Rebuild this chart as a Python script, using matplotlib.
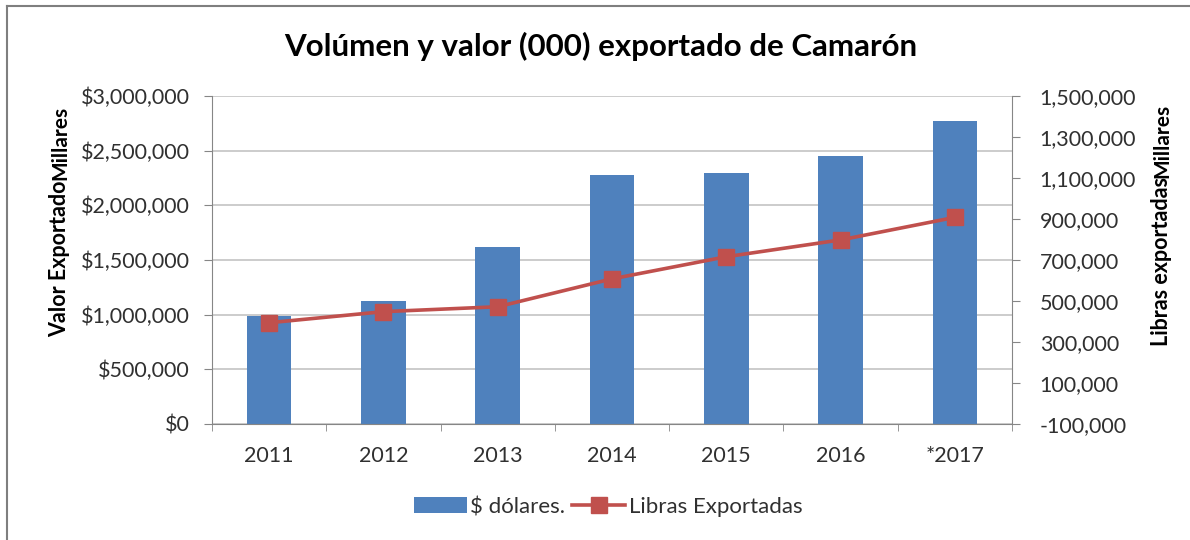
import numpy as np
import matplotlib
matplotlib.use('Agg')
import matplotlib.pyplot as plt
from matplotlib.ticker import StrMethodFormatter, FixedLocator
from matplotlib.lines import Line2D

plt.rcParams['font.family'] = ['Lato', 'DejaVu Sans']
plt.rcParams['axes.unicode_minus'] = False

years = ['2011', '2012', '2013', '2014', '2015', '2016', '*2017']
dolares = [990000, 1128000, 1620000, 2277000, 2300000, 2450000, 2770000]
libras = [394000, 448000, 472000, 608000, 716000, 798000, 908000]

bar_color = '#4F81BD'
line_color = '#C0504D'
axis_color = '#868686'
grid_color = '#C8C8C8'
text_color = '#303030'

fig = plt.figure(figsize=(11.9, 5.4), dpi=100)
ax1 = fig.add_axes([212/1190, 1-424/540, 800/1190, 328/540])
ax2 = ax1.twinx()

x = np.arange(len(years))
bars = ax1.bar(x, dolares, width=0.39, color=bar_color, zorder=2, label='$ dólares.')
ln, = ax2.plot(x, libras, '-', color=line_color, lw=2.6, marker='s', markersize=12,
               label='Libras Exportadas', zorder=3)

ax1.set_xlim(-0.5, len(years)-0.5)
ax1.set_ylim(0, 3000000)
ax1.set_yticks(np.arange(0, 3000001, 500000))
ax1.yaxis.set_major_formatter(StrMethodFormatter('${x:,.0f}'))
ax1.grid(axis='y', color=grid_color, lw=1.3, zorder=0)
ax1.set_axisbelow(True)

ax2.set_ylim(-100000, 1500000)
ax2.set_yticks(np.arange(-100000, 1500001, 200000))
ax2.yaxis.set_major_formatter(StrMethodFormatter('{x:,.0f}'))

ax1.set_xticks(x)
ax1.set_xticklabels(years)
ax1.xaxis.set_minor_locator(FixedLocator(np.arange(-0.5, len(years), 1)))
ax1.tick_params(axis='x', which='major', length=0, pad=16, labelsize=15.5, labelcolor=text_color)
ax1.tick_params(axis='x', which='minor', length=5, color=axis_color, direction='out')
ax1.tick_params(axis='y', length=6, color=axis_color, labelsize=15.5, labelcolor=text_color, pad=10)
ax2.tick_params(axis='y', length=6, color=axis_color, labelsize=15.5, labelcolor=text_color, pad=14)

for a in (ax1, ax2):
    a.spines['top'].set_visible(False)
    a.spines['left'].set_color(axis_color)
    a.spines['right'].set_color(axis_color)
    a.spines['bottom'].set_color(axis_color)
ax1.spines['right'].set_visible(False)
ax2.spines['left'].set_visible(False)
ax2.spines['bottom'].set_visible(False)

fig.text(601/1190, 1-46/540, 'Volúmen y valor (000) exportado de Camarón', ha='center', va='center',
         fontsize=22.5, fontweight='bold', color='black')

# axis titles with overlaid display-unit labels
fig.text(60/1190, 1-259/540, 'Valor Exportado', rotation=90, ha='center', va='center',
         fontsize=15.5, fontweight='bold', color='black')
fig.text(60/1190, 1-143/540, 'Millares', rotation=90, ha='center', va='center',
         fontsize=15, fontweight='bold', color='black')
fig.text(1162/1190, 1-262/540, 'Libras exportadas', rotation=90, ha='center', va='center',
         fontsize=15.5, fontweight='bold', color='black')
fig.text(1162/1190, 1-141/540, 'Millares', rotation=90, ha='center', va='center',
         fontsize=15, fontweight='bold', color='black')

fig.legend([bars, ln], ['$ dólares.', 'Libras Exportadas'], loc='center',
           bbox_to_anchor=(608/1190, 1-507/540), ncol=2, frameon=False,
           fontsize=16, handlelength=2.4, handletextpad=0.15, columnspacing=0.3,
           labelcolor=text_color)

# outer frame (top and left edges visible)
fig.add_artist(Line2D([7/1190, 7/1190], [0, 1-6/540], color='#7F7F7F', lw=1.5,
                      transform=fig.transFigure))
fig.add_artist(Line2D([7/1190, 1], [1-6/540, 1-6/540], color='#7F7F7F', lw=1.5,
                      transform=fig.transFigure))

fig.savefig('out.png', dpi=100)
